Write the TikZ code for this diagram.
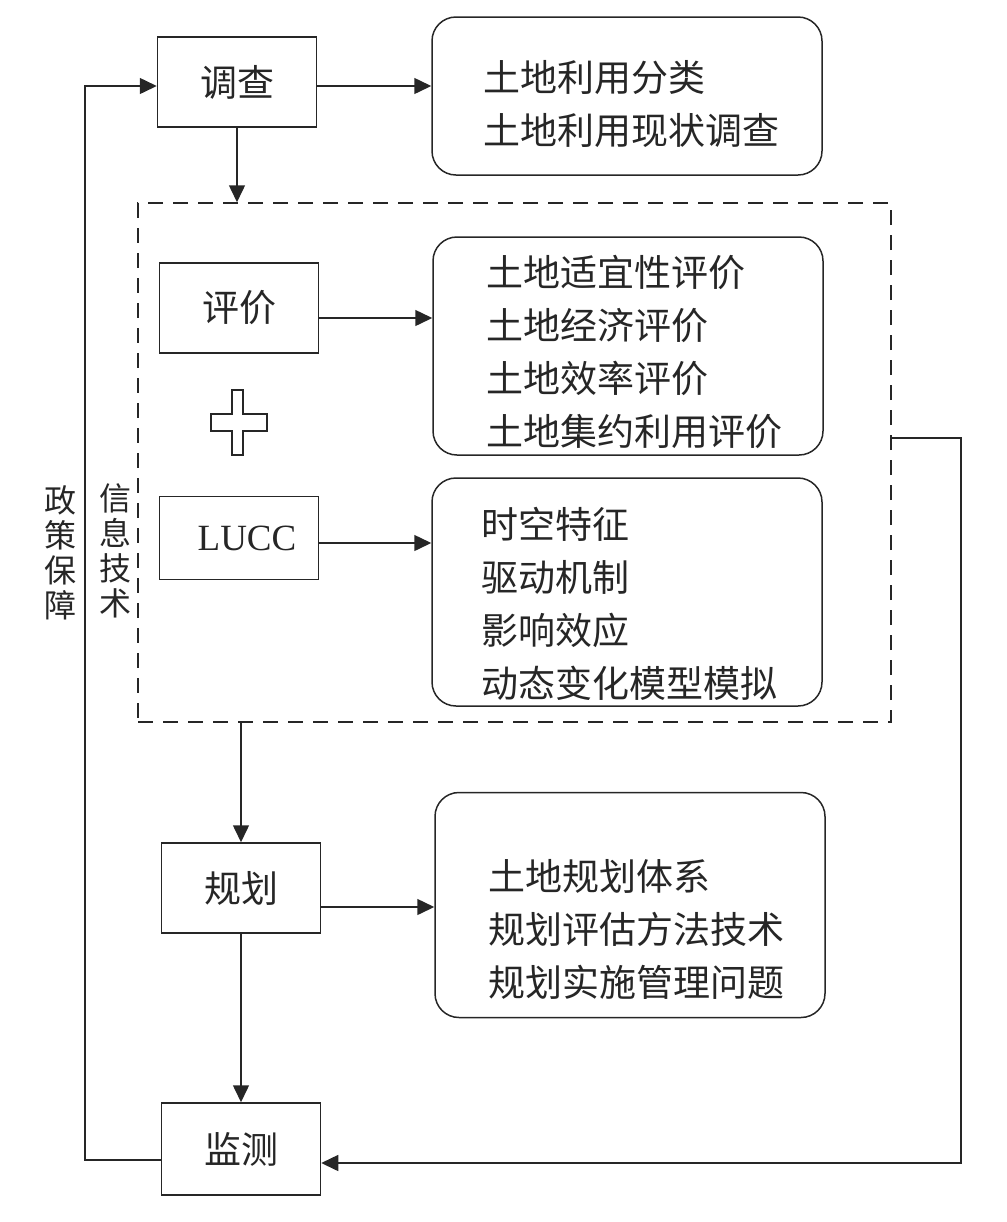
\documentclass[tikz,border=0pt]{standalone}
\usepackage{fontspec}
\setmainfont{Liberation Serif}
\newfontfamily\cjk{Noto Sans CJK SC}
\usetikzlibrary{arrows.meta, positioning}

\tikzset{
  stepbox/.style={draw, minimum width=79.5pt, minimum height=45pt, font=\cjk\fontsize{18.5}{22}\selectfont},
  itemframe/.style={draw, rounded corners=12pt, minimum width=195pt},
  itemtext/.style={anchor=west, inner sep=0pt, align=left, font=\cjk\fontsize{18.5}{26.5}\selectfont},
  vlabel/.style={align=center, font=\cjk\fontsize{16}{17.5}\selectfont},
  arr/.style={-{Triangle[length=8.5pt, width=8pt]}},
}

\begin{document}
\begin{tikzpicture}[x=0.5pt, y=-0.5pt, line width=0.75pt, color=black!85]
  \useasboundingbox (0,0) rectangle (1007,1222);

  % Steps
  \node[stepbox] (survey) at (237,82) {调查};
  \node[stepbox] (assess) at (239,308) {评价};
  \node[stepbox, minimum height=41.5pt, font=\fontsize{18.5}{22}\selectfont] (lucc) at (239,538) {\hspace{8pt}LUCC};
  \node[stepbox] (plan) at (241,888) {规划};
  \node[stepbox, minimum height=46pt] (monitor) at (241,1149) {监测};

  % Contents
  \node[itemframe, minimum height=79pt] (surveyitems) at (627,96) {};
  \node[itemtext] (surveytext) at (483,104) {土地利用分类\\土地利用现状调查};
  \node[itemframe, minimum height=109pt] (assessitems) at (628,346) {};
  \node[itemtext] (assesstext) at (486,352) {土地适宜性评价\\土地经济评价\\土地效率评价\\土地集约利用评价};
  \node[itemframe, minimum height=114pt] (luccitems) at (627,592) {};
  \node[itemtext] (lucctext) at (481,604) {时空特征\\驱动机制\\影响效应\\动态变化模型模拟};
  \node[itemframe, minimum height=112.5pt] (planitems) at (630,905) {};
  \node[itemtext] (plantext) at (488,929) {土地规划体系\\规划评估方法技术\\规划实施管理问题};

  \node[draw, dash pattern=on 7.5pt off 5pt, minimum width=376.5pt, minimum height=259.5pt] (infotech) at (514.5,462.5) {};

  \node[vlabel] (policy) at (60,553) {政\\策\\保\\障};
  \node[vlabel] (tech) at (115,551) {信\\息\\技\\术};

  % Plus sign
  \draw (232,390) -- (243,390) -- (243,414) -- (267,414) -- (267,431) -- (243,431) -- (243,455)
    -- (232,455) -- (232,431) -- (211,431) -- (211,414) -- (232,414) -- cycle;

  \draw[arr] ([yshift=-2pt]survey.east) -- ([yshift=-2pt]survey.east -| surveyitems.west);
  \draw[arr] (survey.south) -- (survey.south |- infotech.north);
  \draw[arr] ([yshift=-5pt]assess.east) -- ([yshift=-5pt]assess.east -| assessitems.west);
  \draw[arr] ([yshift=-2.5pt]lucc.east) -- ([yshift=-2.5pt]lucc.east -| luccitems.west);
  \draw[arr] (infotech.south -| plan.north) -- (plan.north);
  \draw[arr] ([yshift=-9.5pt]plan.east) -- ([yshift=-9.5pt]plan.east -| planitems.west);
  \draw[arr] (plan.south) -- (monitor.north);

  % Feedback
  \draw[arr] ([yshift=-5.5pt]monitor.west) -- ++(-38pt,0) |- ([yshift=-2pt]survey.west);
  \draw[arr] ([yshift=12.25pt]infotech.east) -- ++(34.5pt,0) |- ([yshift=-7pt]monitor.east);
\end{tikzpicture}
\end{document}
